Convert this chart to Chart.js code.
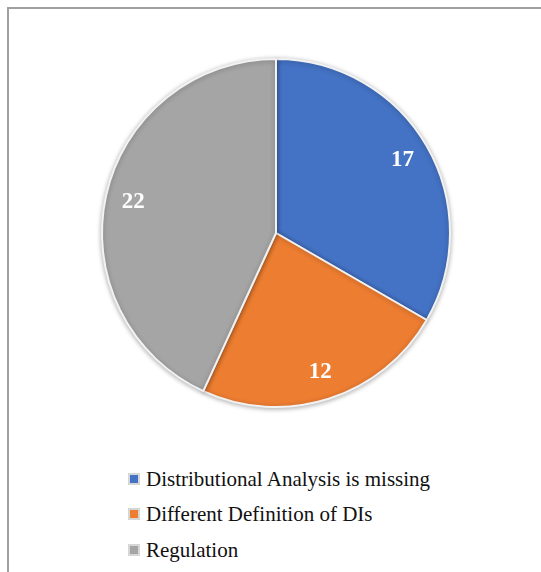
<!DOCTYPE html>
<html>
<head>
<meta charset="utf-8">
<script src="https://cdn.jsdelivr.net/npm/chart.js@4"></script>
<style>
  body { margin: 0; background: #fff; }
  #frame {
    position: absolute; left: 7px; top: 7px; width: 534px; height: 565px;
    border-top: 2px solid #a0a0a0; border-left: 2px solid #a0a0a0;
  }
  #wrap { position: absolute; left: 0; top: 0; width: 541px; height: 430px; }
  #legend {
    position: absolute; left: 128px; top: 461px;
    font-family: "Liberation Serif", "Times New Roman", serif; font-size: 21px; color: #111;
  }
  .item { height: 35.5px; line-height: 24px; display: flex; align-items: center; }
  .box { width: 8px; height: 8px; border: 2px solid #d6d6d6; margin-right: 6px; }
</style>
</head>
<body>
<div id="frame"></div>
<div id="wrap"><canvas id="pieChart"></canvas></div>
<div id="legend"></div>
<script>
// categorias y valores
const categorias = ['Distributional Analysis is missing', 'Different Definition of DIs', 'Regulation'];
const valores = [17, 12, 22];
const colores = ['#4472C4', '#ED7D31', '#A5A5A5'];

// etiquetas de valor dentro de cada porcion
const etiquetasPlugin = {
  id: 'etiquetas',
  afterDatasetsDraw(chart) {
    const ctx = chart.ctx;
    const meta = chart.getDatasetMeta(0);
    ctx.save();
    ctx.fillStyle = '#fff';
    ctx.font = 'bold 23px "Liberation Serif", serif';
    ctx.textAlign = 'center';
    ctx.textBaseline = 'middle';
    meta.data.forEach((arc, i) => {
      const p = arc.getProps(['x', 'y', 'startAngle', 'endAngle', 'outerRadius'], true);
      const mid = (p.startAngle + p.endAngle) / 2;
      const r = p.outerRadius * 0.84;
      ctx.fillText(String(valores[i]), p.x + Math.cos(mid) * r, p.y + Math.sin(mid) * r);
    });
    ctx.restore();
  }
};

// sombra suave alrededor del pastel
const sombraPlugin = {
  id: 'sombra',
  beforeDatasetDraw(chart) {
    const ctx = chart.ctx;
    ctx.save();
    ctx.shadowColor = 'rgba(0,0,0,0.3)';
    ctx.shadowBlur = 5;
    ctx.shadowOffsetY = 1;
  },
  afterDatasetDraw(chart) {
    chart.ctx.restore();
  }
};

new Chart(document.getElementById('pieChart'), {
  type: 'pie',
  data: {
    labels: categorias,
    datasets: [{
      data: valores,
      backgroundColor: colores,
      borderColor: '#f2f2f2',
      borderWidth: 2
    }]
  },
  options: {
    responsive: true,
    maintainAspectRatio: false,
    animation: false,
    layout: { padding: { top: 58, bottom: 22, left: 101, right: 90 } },
    plugins: {
      legend: { display: false },
      tooltip: { enabled: false }
    }
  },
  plugins: [sombraPlugin, etiquetasPlugin]
});

// leyenda en HTML
const leyenda = document.getElementById('legend');
categorias.forEach((c, i) => {
  const item = document.createElement('div');
  item.className = 'item';
  const box = document.createElement('span');
  box.className = 'box';
  box.style.background = colores[i];
  const txt = document.createElement('span');
  txt.textContent = c;
  item.appendChild(box);
  item.appendChild(txt);
  leyenda.appendChild(item);
});
</script>
</body>
</html>
